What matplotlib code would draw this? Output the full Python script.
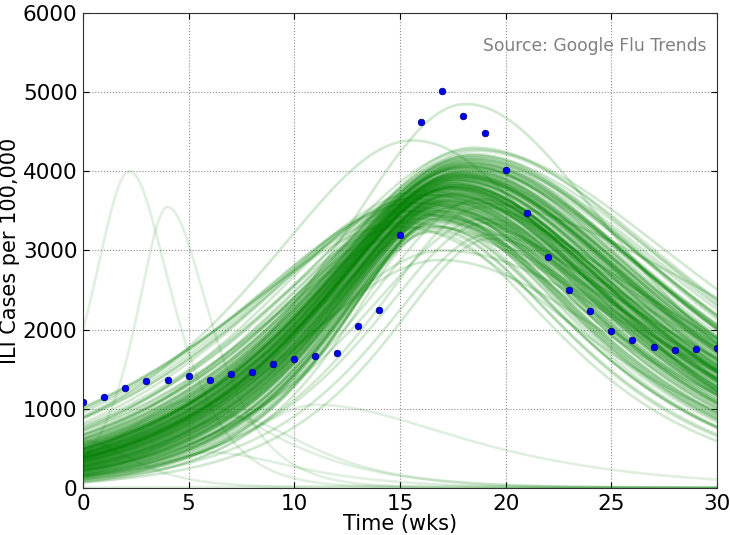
import numpy as np
import matplotlib.pyplot as plt

# observed weekly ILI (blue dots)
weeks = np.arange(0, 31)
ili_cases = [1085, 1155, 1262, 1346, 1367, 1409, 1358, 1443, 1460, 1561,
             1633, 1667, 1709, 2047, 2244, 3194, 4625, 5013, 4697, 4486,
             4019, 3468, 2913, 2502, 2236, 1983, 1873, 1776, 1743, 1751,
             1772]

# model ensemble (green curves): peak week, peak height, rise width, fall width
peak_wk = [17.6, 17.2, 18.0, 17.4, 17.9, 17.1, 18.3, 17.5, 16.8, 17.7,
           17.3, 18.1, 17.6, 17.0, 17.8, 18.4, 17.2, 17.5, 16.9, 18.0,
           17.4, 17.7, 18.2, 17.1, 17.6, 17.9, 16.7, 17.3, 18.5, 17.5,
           17.8, 17.0, 17.4, 18.1, 17.6, 17.2, 17.9, 16.6, 18.3, 17.5,
           17.7, 17.1, 18.0, 17.4, 17.3, 18.2, 16.9, 17.6, 17.8, 17.5,
           15.2, 15.6, 16.0, 15.0, 16.3, 19.0, 18.8, 15.8, 19.2, 16.2,
           17.3, 17.9, 17.5, 17.0, 18.1, 17.6, 17.2, 17.8, 16.8, 18.4,
           17.4, 17.7, 17.1, 18.0, 17.5, 17.3, 17.9, 16.9, 18.2, 17.6,
           17.5, 17.8, 17.1, 18.2, 16.9, 17.6, 17.3, 18.0, 17.4, 17.7,
           16.5, 18.6, 17.2, 17.9, 17.5, 16.8, 18.3, 17.0, 17.6, 17.4,
           18.1, 17.3, 16.7, 17.8, 17.5, 18.4, 17.1, 17.7, 16.9, 18.0,
           17.6, 17.2, 17.9, 16.6, 18.2, 17.4, 17.0, 17.8, 17.3, 18.5,
           17.5, 16.8, 18.1, 17.6, 17.1, 17.9, 16.4, 18.3, 17.4, 17.7,
           15.5, 16.1, 15.3, 16.5, 19.1, 18.9, 15.9, 16.4, 19.3, 15.7,
           17.2, 17.8, 17.5, 18.0, 16.9, 17.6, 17.3, 18.2, 17.0, 17.7,
           17.4, 17.9, 17.1, 18.1, 16.8, 17.5, 17.8, 17.2, 18.3, 17.6,
           18.1, 15.6, 16.9, 17.0, 18.5]
peak_val = [3850, 3620, 4010, 3700, 3930, 3480, 4150, 3790, 3550, 3880,
            3660, 4080, 3740, 3420, 3960, 4220, 3590, 3820, 3380, 3990,
            3710, 3900, 4120, 3510, 3770, 4040, 3300, 3640, 4300, 3800,
            3950, 3450, 3680, 4060, 3830, 3570, 3970, 3250, 4180, 3760,
            3870, 3530, 4000, 3690, 3610, 4100, 3360, 3810, 3920, 3730,
            3500, 3650, 3450, 3300, 3700, 3400, 3650, 3600, 3200, 3750,
            3780, 3940, 3850, 3500, 4070, 3720, 3630, 3980, 3460, 4200,
            3750, 3890, 3540, 4020, 3800, 3670, 3910, 3400, 4130, 3840,
            3760, 3910, 3580, 4090, 3430, 3840, 3650, 4030, 3720, 3880,
            3320, 4260, 3600, 3960, 3790, 3470, 4160, 3520, 3810, 3700,
            4050, 3630, 3350, 3940, 3770, 4200, 3560, 3870, 3410, 4000,
            3830, 3590, 3980, 3280, 4110, 3690, 3490, 3920, 3640, 4280,
            3780, 3440, 4070, 3820, 3540, 3950, 3230, 4170, 3710, 3890,
            3550, 3400, 3350, 3700, 3350, 3550, 3500, 3300, 3150, 3600,
            3610, 3930, 3800, 4040, 3390, 3850, 3660, 4100, 3500, 3900,
            3730, 3970, 3570, 4060, 3450, 3790, 3940, 3620, 4140, 3810,
            4850, 4390, 2880, 3000, 3600]
rise_w = [9.6, 8.9, 10.2, 9.1, 10.5, 8.4, 11.0, 9.8, 8.2, 10.0,
          9.3, 10.8, 9.5, 8.0, 10.3, 11.4, 8.7, 9.9, 7.9, 10.6,
          9.2, 10.1, 11.2, 8.5, 9.7, 10.4, 7.6, 9.0, 11.8, 9.6,
          10.2, 8.3, 9.4, 10.9, 9.8, 8.8, 10.3, 7.4, 11.5, 9.5,
          9.9, 8.6, 10.7, 9.2, 9.0, 11.1, 7.8, 9.7, 10.4, 9.5,
          12.0, 11.5, 12.5, 10.8, 13.0, 9.5, 9.0, 13.5, 8.0, 12.8,
          9.4, 10.5, 9.8, 8.6, 10.9, 9.6, 8.9, 10.3, 8.1, 11.3,
          9.3, 10.0, 8.7, 10.6, 9.7, 9.1, 10.2, 7.7, 11.0, 9.9,
          9.0, 10.6, 8.1, 11.6, 7.2, 9.9, 8.6, 11.3, 9.4, 10.4,
          6.8, 12.4, 8.4, 10.9, 9.7, 7.5, 12.0, 7.9, 10.1, 9.2,
          11.5, 8.8, 7.0, 10.7, 9.6, 12.6, 8.2, 10.3, 7.3, 11.1,
          10.0, 8.5, 11.0, 6.6, 11.9, 9.3, 7.7, 10.8, 8.9, 13.0,
          9.8, 7.4, 11.4, 10.2, 8.0, 10.9, 6.9, 12.2, 9.1, 10.5,
          12.8, 11.8, 13.8, 12.2, 8.5, 8.2, 14.0, 12.6, 7.5, 13.2,
          8.7, 10.8, 9.9, 11.6, 7.6, 10.1, 9.0, 11.9, 8.3, 10.6,
          9.5, 11.2, 8.4, 11.7, 7.8, 9.8, 10.9, 8.8, 12.3, 10.0,
          10.0, 11.5, 11.0, 10.5, 12.0]
fall_w = [12.8, 12.0, 13.6, 12.4, 13.2, 11.5, 14.3, 12.9, 11.2, 13.4,
          12.2, 14.0, 12.7, 11.0, 13.8, 15.0, 11.8, 13.0, 10.6, 13.5,
          12.5, 13.3, 14.6, 11.6, 12.8, 13.9, 10.2, 12.1, 15.6, 12.9,
          13.7, 11.3, 12.6, 14.2, 13.1, 11.9, 13.6, 9.8, 15.2, 12.7,
          13.2, 11.4, 14.1, 12.3, 12.0, 14.5, 10.4, 12.9, 13.8, 12.6,
          14.0, 15.5, 16.0, 13.0, 17.0, 11.0, 10.5, 16.5, 12.0, 17.5,
          12.4, 13.9, 13.0, 11.6, 14.4, 12.8, 12.1, 13.5, 11.0, 14.8,
          12.5, 13.3, 11.7, 14.0, 12.9, 12.3, 13.6, 10.0, 14.6, 13.1,
          12.5, 13.9, 11.6, 14.7, 11.0, 13.1, 12.2, 14.4, 12.6, 13.6,
          10.4, 16.0, 11.9, 14.2, 12.9, 10.8, 15.4, 11.3, 13.3, 12.4,
          14.9, 12.0, 10.1, 14.0, 12.8, 16.4, 11.5, 13.5, 10.6, 14.5,
          13.2, 11.8, 14.3, 9.6, 15.8, 12.5, 11.1, 14.1, 12.2, 17.0,
          13.0, 10.5, 15.1, 13.4, 11.4, 14.6, 9.4, 16.2, 12.6, 13.7,
          15.0, 14.5, 16.8, 17.2, 10.8, 11.5, 18.0, 15.5, 11.2, 16.6,
          11.9, 14.3, 13.1, 15.3, 10.9, 13.5, 12.3, 15.0, 11.4, 13.8,
          12.7, 14.6, 11.8, 15.2, 10.7, 12.9, 14.2, 12.0, 16.0, 13.3,
          12.0, 12.5, 14.0, 16.0, 20.0]

# stray ensemble members outside the main band
odd_wk = [2.2, 4.0, 11.0, 5.0, 7.0, 6.0, 0.0, 15.0]
odd_val = [4000, 3550, 1050, 1100, 900, 450, 600, 25]
odd_rise = [2.8, 2.3, 5.5, 5.0, 5.0, 4.0, 1.0, 10.0]
odd_fall = [3.1, 3.1, 10.5, 6.2, 5.5, 6.0, 3.5, 10.0]


def bump(t, tp, a, wl, wr):
    # rounded top, near-exponential flanks
    d = t - tp
    left = np.exp(-1.153 * (np.sqrt(1 + (d / (0.625 * wl)) ** 2) - 1))
    right = np.exp(-1.053 * (np.sqrt(1 + (d / (0.6 * wr)) ** 2) - 1))
    return a * np.where(d < 0, left, right)


t = np.linspace(0, 30, 301)

fig = plt.figure(figsize=(7.3, 5.35), dpi=100)
ax = fig.add_axes([0.1137, 0.0879, 0.8685, 0.8878])

for tp, a, wl, wr in zip(peak_wk, peak_val, rise_w, fall_w):
    ax.plot(t, bump(t, tp, a, wl, wr), color='g', alpha=0.18, lw=1.9)
for tp, a, wl, wr in zip(odd_wk, odd_val, odd_rise, odd_fall):
    ax.plot(t, bump(t, tp, a, wl, wr), color='g', alpha=0.12, lw=1.9)

ax.plot(weeks, ili_cases, 'o', color='b', mec='#000066', mew=0.5, ms=4.8, zorder=5)

ax.set_xlim(0, 30)
ax.set_ylim(0, 6000)
ax.set_xticks([0, 5, 10, 15, 20, 25, 30])
ax.set_yticks([0, 1000, 2000, 3000, 4000, 5000, 6000])
ax.grid(True, color='0.55', linestyle=':', linewidth=0.8)
ax.tick_params(direction='in', top=True, right=True, labelsize=15.5, length=4, pad=4)
for s in ax.spines.values():
    s.set_color('0.2')
ax.set_xlabel('Time (wks)', fontsize=15, labelpad=0)
ax.set_ylabel('ILI Cases per 100,000', fontsize=15, labelpad=2)
ax.text(0.984, 0.93, 'Source: Google Flu Trends', transform=ax.transAxes,
        ha='right', va='center', fontsize=12.3, color='0.5')

fig.savefig('out.png', dpi=100)
